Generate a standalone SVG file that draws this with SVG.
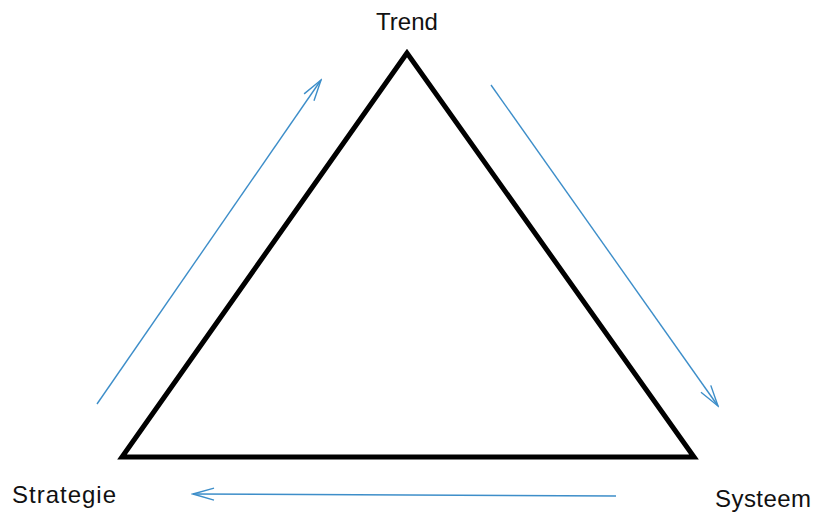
<svg xmlns="http://www.w3.org/2000/svg" width="814" height="515" viewBox="0 0 814 515">
<style>
.lbl{font-family:"Liberation Sans",Arial,sans-serif;font-size:24px;fill:#111}
.arr{stroke:#3d8ec9;stroke-width:1.4;fill:none;marker-end:url(#head)}
</style>
<defs>
<marker id="head" viewBox="-22 -8 24 16" markerWidth="24" markerHeight="16" refX="0" refY="0" orient="auto" markerUnits="userSpaceOnUse">
<path d="M-21,-6 L0,0 L-21,6" fill="none" stroke="#3d8ec9" stroke-width="1.4"/>
</marker>
</defs>
<rect width="814" height="515" fill="#fff"/>
<g id="triangle">
<polygon points="407,53 122,457 694,457" fill="none" stroke="#000" stroke-width="5" stroke-linejoin="miter"/>
</g>
<g id="trend"><text class="lbl" x="407" y="30" text-anchor="middle">Trend</text></g>
<g id="strategie"><text class="lbl" x="12" y="503" textLength="104">Strategie</text></g>
<g id="systeem"><text class="lbl" x="715" y="507" textLength="96">Systeem</text></g>
<g id="connectors">
<line class="arr" x1="97" y1="404" x2="321" y2="80"/>
<line class="arr" x1="491" y1="85" x2="718" y2="406"/>
<line class="arr" x1="616" y1="496" x2="193" y2="494"/>
</g>
</svg>
